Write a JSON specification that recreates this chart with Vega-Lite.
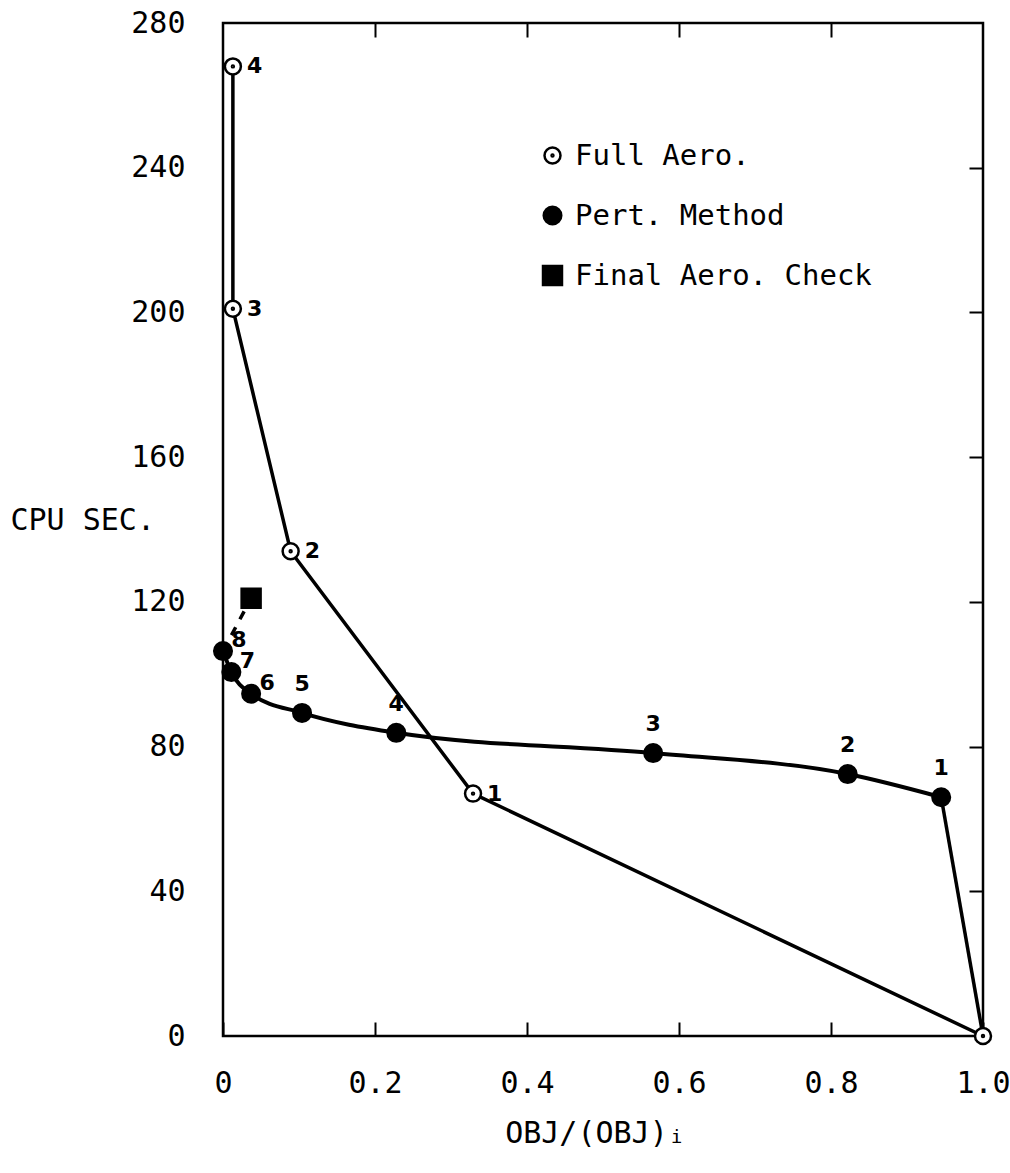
{
  "$schema": "https://vega.github.io/schema/vega-lite/v6.json",
  "width": 760,
  "height": 1013,
  "autosize": {"type": "none"},
  "padding": {"left": 223, "top": 23, "right": 27, "bottom": 137},
  "background": "white",
  "config": {
    "view": {"stroke": "black", "strokeWidth": 2.5},
    "axis": {"domain": false, "grid": false, "labelColor": "black", "tickColor": "black", "tickWidth": 2, "titleColor": "black", "labelFont": "DejaVu Sans Mono", "titleFont": "DejaVu Sans Mono", "labelFontSize": 30, "titleFontSize": 30, "titleFontWeight": "normal"}
  },
  "data": {
    "values": [
      {"series": "Full Aero.", "iter": 0, "obj": 1.0, "cpu": 0},
      {"series": "Full Aero.", "iter": 1, "obj": 0.329, "cpu": 67},
      {"series": "Full Aero.", "iter": 2, "obj": 0.089, "cpu": 134},
      {"series": "Full Aero.", "iter": 3, "obj": 0.013, "cpu": 201},
      {"series": "Full Aero.", "iter": 4, "obj": 0.013, "cpu": 268},
      {"series": "Pert. Method", "iter": 0, "obj": 1.0, "cpu": 0},
      {"series": "Pert. Method", "iter": 1, "obj": 0.945, "cpu": 66},
      {"series": "Pert. Method", "iter": 2, "obj": 0.822, "cpu": 72.4},
      {"series": "Pert. Method", "iter": 3, "obj": 0.566, "cpu": 78.2},
      {"series": "Pert. Method", "iter": 4, "obj": 0.228, "cpu": 83.8},
      {"series": "Pert. Method", "iter": 5, "obj": 0.104, "cpu": 89.3},
      {"series": "Pert. Method", "iter": 6, "obj": 0.037, "cpu": 94.6},
      {"series": "Pert. Method", "iter": 7, "obj": 0.011, "cpu": 100.6},
      {"series": "Pert. Method", "iter": 8, "obj": 0.0, "cpu": 106.4},
      {"series": "Final Aero. Check", "iter": 8, "obj": 0.037, "cpu": 121}
    ]
  },
  "resolve": {"axis": {"x": "independent", "y": "independent"}},
  "layer": [
    {
      "encoding": {
        "x": {"field": "obj", "type": "quantitative", "scale": {"domain": [0, 1], "nice": false, "zero": false},
          "axis": {"orient": "bottom", "values": [0, 0.2, 0.4, 0.6, 0.8, 1.0], "labelExpr": "datum.value == 0 ? '0' : format(datum.value, '.1f')", "tickSize": -14, "labelPadding": 46, "labelFlush": false,
            "title": "OBJ/(OBJ)ᵢ", "titleX": 372, "titleY": 97, "titleAlign": "center", "titleBaseline": "middle"}},
        "y": {"field": "cpu", "type": "quantitative", "scale": {"domain": [0, 280], "nice": false},
          "axis": {"orient": "left", "values": [0, 40, 80, 120, 160, 200, 240, 280], "ticks": false, "labelPadding": 38, "labelFlush": false, "labelBaseline": "middle",
            "title": "CPU SEC.", "titleAngle": 0, "titleAlign": "left", "titleBaseline": "middle", "titleX": -213, "titleY": 497}}
      },
      "layer": [
        {
          "transform": [{"filter": "datum.series == 'Full Aero.' || (datum.series == 'Pert. Method' && datum.iter <= 1)"}],
          "mark": {"type": "line", "color": "black", "strokeWidth": 3.5},
          "encoding": {"detail": {"field": "series"}, "order": {"field": "iter", "type": "quantitative"}}
        },
        {
          "transform": [{"filter": "datum.series == 'Pert. Method' && datum.iter >= 1"}],
          "mark": {"type": "line", "color": "black", "strokeWidth": 4, "interpolate": "monotone"},
          "encoding": {}
        },
        {
          "transform": [{"filter": "datum.series == 'Final Aero. Check' || (datum.series == 'Pert. Method' && datum.iter == 8)"}],
          "mark": {"type": "line", "color": "black", "strokeWidth": 3.5, "strokeDash": [9, 9]},
          "encoding": {}
        },
        {
          "transform": [{"filter": "!(datum.series == 'Pert. Method' && datum.iter == 0)"}],
          "mark": {"type": "point", "filled": true, "strokeWidth": 2.5, "opacity": 1, "fillOpacity": 1, "strokeOpacity": 1},
          "encoding": {
            "shape": {"field": "series", "type": "nominal", "scale": {"domain": ["Full Aero.", "Pert. Method", "Final Aero. Check"], "range": ["M1,0A1,1,0,1,1,-1,0A1,1,0,1,1,1,0ZM0.12,0A0.12,0.12,0,1,1,-0.12,0A0.12,0.12,0,1,1,0.12,0Z", "circle", "square"]}},
            "fill": {"field": "series", "type": "nominal", "scale": {"domain": ["Full Aero.", "Pert. Method", "Final Aero. Check"], "range": ["white", "black", "black"]}},
            "stroke": {"field": "series", "type": "nominal", "scale": {"domain": ["Full Aero.", "Pert. Method", "Final Aero. Check"], "range": ["black", "black", "black"]}},
            "size": {"field": "series", "type": "nominal", "scale": {"domain": ["Full Aero.", "Pert. Method", "Final Aero. Check"], "range": [256, 360, 380]},
              "legend": {"title": null, "orient": "none", "legendX": 315, "legendY": 118, "labelFont": "DejaVu Sans Mono", "labelFontSize": 29, "labelColor": "black", "labelLimit": 0, "rowPadding": 30, "labelOffset": 8, "symbolStrokeColor": "black", "symbolStrokeWidth": 2.5}}
          }
        },
        {
          "transform": [{"filter": "datum.series == 'Full Aero.' && datum.iter >= 1"}],
          "mark": {"type": "text", "align": "left", "baseline": "middle", "dx": 14, "font": "DejaVu Sans", "fontWeight": "bold", "fontSize": 22, "color": "black"},
          "encoding": {"text": {"field": "iter", "type": "nominal"}}
        },
        {
          "transform": [{"filter": "datum.series == 'Pert. Method' && datum.iter >= 1 && datum.iter <= 5"}],
          "mark": {"type": "text", "align": "center", "baseline": "middle", "dy": -29, "font": "DejaVu Sans", "fontWeight": "bold", "fontSize": 22, "color": "black"},
          "encoding": {"text": {"field": "iter", "type": "nominal"}}
        },
        {
          "transform": [{"filter": "datum.series == 'Pert. Method' && datum.iter >= 6"}],
          "mark": {"type": "text", "align": "center", "baseline": "middle", "dx": 16, "dy": -11, "font": "DejaVu Sans", "fontWeight": "bold", "fontSize": 22, "color": "black"},
          "encoding": {"text": {"field": "iter", "type": "nominal"}}
        }
      ]
    },
    {
      "mark": {"type": "point", "opacity": 0},
      "encoding": {
        "x": {"field": "obj", "type": "quantitative", "axis": {"orient": "top", "values": [0.2, 0.4, 0.6, 0.8], "labels": false, "tickSize": -14, "title": null}},
        "y": {"field": "cpu", "type": "quantitative", "axis": {"orient": "right", "values": [40, 80, 120, 160, 200, 240], "labels": false, "tickSize": -14, "title": null}}
      }
    }
  ]
}
